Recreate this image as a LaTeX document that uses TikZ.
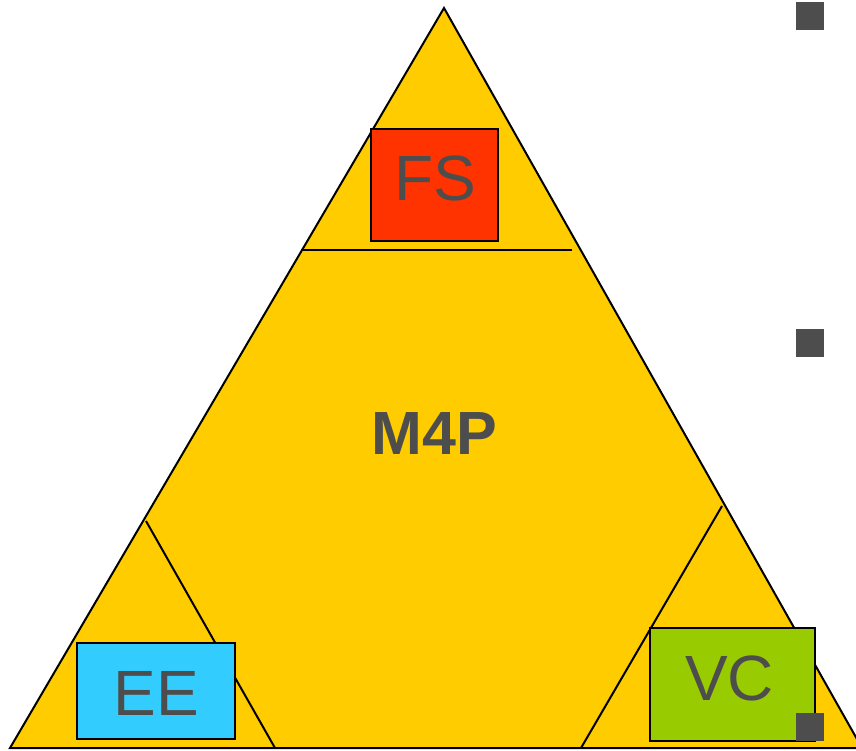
\documentclass[tikz,border=0pt]{standalone}
\usepackage{fontspec}
\setmainfont{Liberation Sans}
\begin{document}
\begin{tikzpicture}[x=1pt,y=1pt,
  edge/.style={draw=black,line width=2pt,line join=miter},
  box/.style={draw=black,line width=1.6pt,inner sep=0pt,outer sep=0pt},
  lbl/.style={text=txtgray,inner sep=0pt,font=\fontsize{64}{64}\selectfont},
  bullet/.style={fill=txtgray,inner sep=0pt,minimum size=28pt}]
\definecolor{gold}{HTML}{FFCC00}
\definecolor{fsred}{HTML}{FF3300}
\definecolor{eeblue}{HTML}{33CCFF}
\definecolor{vcgreen}{HTML}{99CC00}
\definecolor{txtgray}{HTML}{4D4D4D}
\useasboundingbox (0,0) rectangle (856,750);

% main triangle
\coordinate (bl) at (10,2);
\coordinate (apex) at (444,742);
\coordinate (br) at (862,2);
\fill[gold] (bl) -- (apex) -- (br) -- cycle;
\draw[edge] (bl) -- (apex) -- (br) -- cycle;

% dividing lines
\coordinate (topL) at (301,500);
\coordinate (topR) at (572,500);
\draw[edge] (topL) -- (topR);
\coordinate (leftA) at (146,229);
\coordinate (leftB) at (275,2);
\draw[edge] (leftA) -- (leftB);
\coordinate (rightA) at (722,244);
\coordinate (rightB) at (581,2);
\draw[edge] (rightA) -- (rightB);

% corner boxes
\node[box,fill=fsred,minimum width=127pt,minimum height=112pt] (fs) at (434.5,565) {};
\node[box,fill=eeblue,minimum width=158pt,minimum height=96pt] (ee) at (156,59) {};
\node[box,fill=vcgreen,minimum width=165pt,minimum height=113pt] (vc) at (732.5,65.5) {};

% labels
\node[lbl] (fst) at (435,571.5) {FS};
\node[lbl] (eet) at (156.5,57) {EE};
\node[lbl] (vct) at (729.5,72) {VC};
\node[lbl,font=\fontsize{61}{61}\selectfont\bfseries] (m4p) at (434,316.5) {M4P};

% bullet squares
\node[bullet] (b1) at (810,733.5) {};
\node[bullet] (b2) at (810,407) {};
\node[bullet] (b3) at (810,23) {};
\end{tikzpicture}
\end{document}
